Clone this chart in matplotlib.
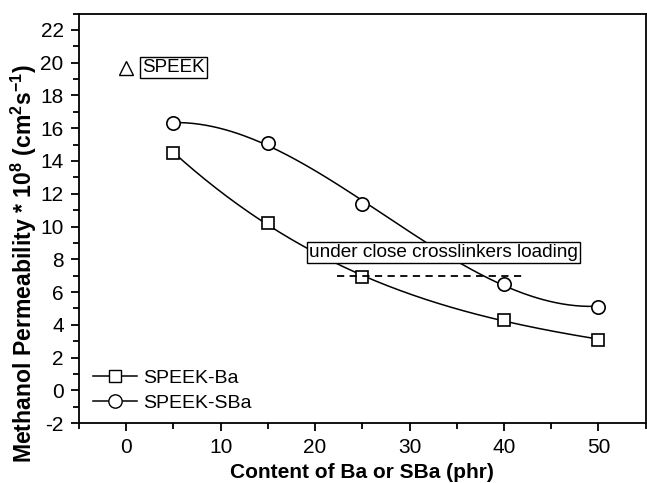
import numpy as np
import matplotlib
matplotlib.use('Agg')
import matplotlib.pyplot as plt
from matplotlib.ticker import MultipleLocator

plt.rcParams['font.family'] = ['Liberation Sans', 'DejaVu Sans']
plt.rcParams['mathtext.fontset'] = 'custom'
plt.rcParams['mathtext.rm'] = 'Liberation Sans'
plt.rcParams['mathtext.bf'] = 'Liberation Sans:bold'
plt.rcParams['axes.unicode_minus'] = False

content = [5, 15, 25, 40, 50]
speek_ba = [14.5, 10.2, 6.9, 4.3, 3.1]
speek_sba = [16.3, 15.1, 11.4, 6.5, 5.1]
speek_x = [0]
speek_y = [19.7]

fig = plt.figure(figsize=(6.47, 4.83), dpi=100)
ax = fig.add_axes([0.122, 0.124, 0.876, 0.848])

xs = np.linspace(5, 50, 200)
fit_ba = np.polyval(np.polyfit(content, speek_ba, 3), xs)
fit_sba = np.polyval(np.polyfit(content, speek_sba, 3), xs)
ax.plot(xs, fit_ba, color='black', lw=1.1)
ax.plot(xs, fit_sba, color='black', lw=1.1)
ax.plot(content, speek_ba, 's', ms=8.8, mfc='white', mec='black', mew=1.2)
ax.plot(content, speek_sba, 'o', ms=9.6, mfc='white', mec='black', mew=1.2)
ax.plot(speek_x, speek_y, '^', ms=10, mfc='white', mec='black', mew=1.0)

# legend handles
ax.plot([], [], '-s', color='black', lw=1.1, ms=8.8, mfc='white', mec='black', label='SPEEK-Ba')
ax.plot([], [], '-o', color='black', lw=1.1, ms=9.6, mfc='white', mec='black', label='SPEEK-SBa')
ax.legend(loc='lower left', bbox_to_anchor=(0.0, -0.005), frameon=False, fontsize=14,
          handlelength=2.3, handletextpad=0.3, labelspacing=0.35, borderaxespad=0.3)

ax.plot([22.3, 42], [7.0, 7.0], '--', color='black', lw=1.3, dashes=(4, 3))
ax.text(1.7, 19.7, 'SPEEK', fontsize=13.5, va='center', ha='left',
        bbox=dict(boxstyle='square,pad=0.1', fc='white', ec='black', lw=1))
ax.text(33.6, 8.4, 'under close crosslinkers loading', fontsize=13.7, va='center', ha='center',
        bbox=dict(boxstyle='square,pad=0.1', fc='white', ec='black', lw=1))

ax.set_xlim(-5, 55)
ax.set_ylim(-2, 23)
ax.xaxis.set_major_locator(MultipleLocator(10))
ax.xaxis.set_minor_locator(MultipleLocator(5))
ax.yaxis.set_major_locator(MultipleLocator(2))
ax.yaxis.set_minor_locator(MultipleLocator(1))
ax.tick_params(which='both', direction='out', top=False, right=False, labelsize=15, width=1.3)
ax.tick_params(which='major', length=6, pad=5)
ax.tick_params(which='minor', length=4)
for s in ax.spines.values():
    s.set_linewidth(1.3)

ax.set_xlabel('Content of Ba or SBa (phr)', fontsize=15, fontweight='bold')
ax.set_ylabel(r'Methanol Permeability * 10$^\mathbf{8}$ (cm$^\mathbf{2}$s$^\mathbf{-1}$)',
              fontsize=16.6, fontweight='bold')
ax.xaxis.set_label_coords(0.5, -0.097)
ax.yaxis.set_label_coords(-0.070, 0.39)

fig.savefig('out.png', dpi=100)
